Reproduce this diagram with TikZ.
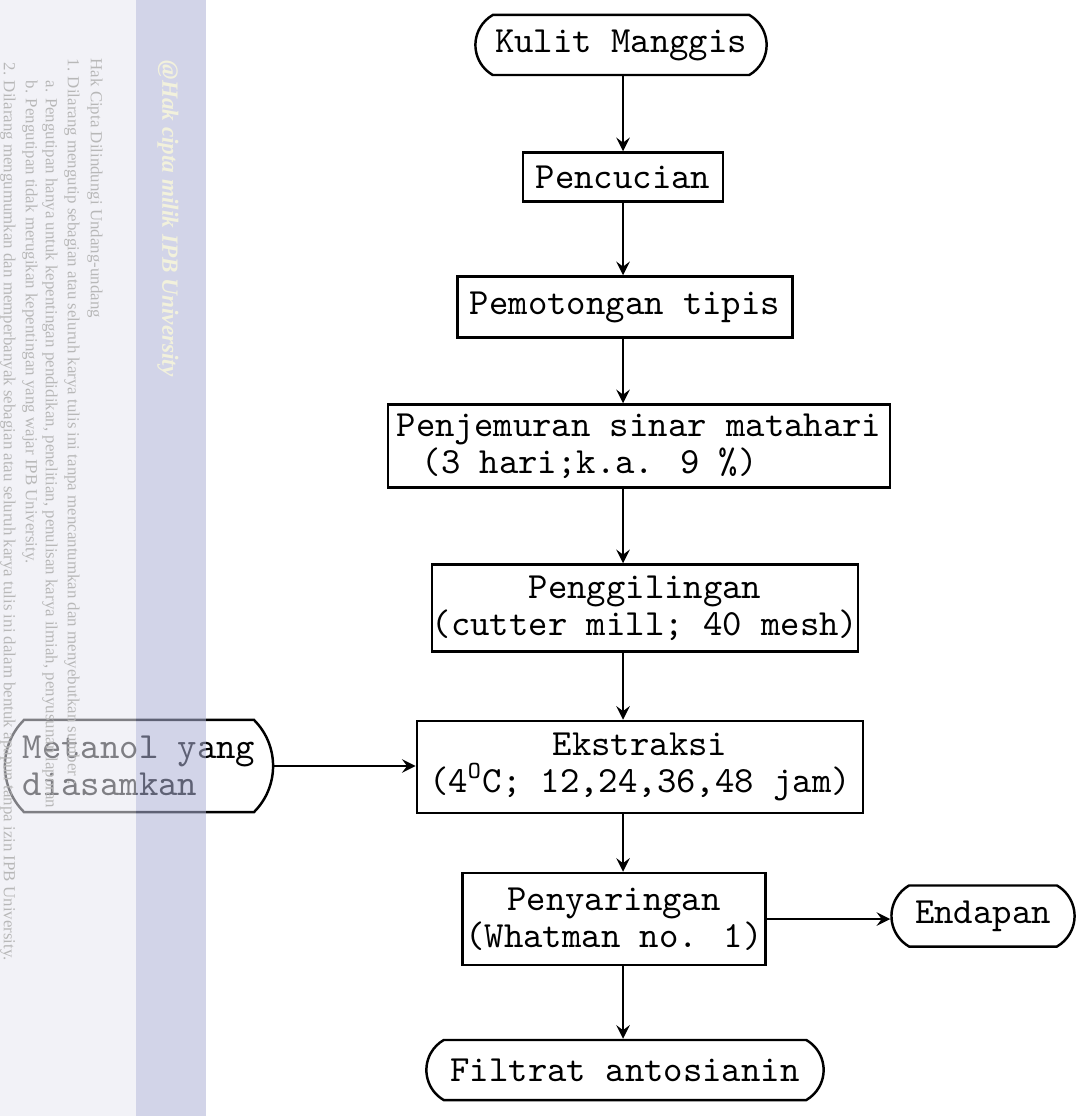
\documentclass[tikz,border=0pt]{standalone}
\usepackage{fontspec}
\newfontfamily\markfont{Liberation Serif}
\usetikzlibrary{shapes.misc}
\definecolor{bandgrey}{rgb}{0.909,0.909,0.945}
\definecolor{bandblue}{rgb}{0.68,0.693,0.836}
\definecolor{markyellow}{HTML}{F2F1DC}

\begin{document}
\begin{tikzpicture}[x=0.01cm, y=-0.01cm,
    box/.style={rectangle, draw=black, line width=0.7pt, align=center, inner sep=0pt, font=\ttfamily\fontsize{10.5}{10.4}\selectfont},
    term/.style={box, rounded rectangle, rounded rectangle arc length=120},
    arrow/.style={line width=0.7pt,->,>=stealth},
    fine/.style={anchor=west, rotate=-90, inner sep=0pt, text=black!28, font=\markfont\fontsize{4.8}{5}\selectfont}
]
    \useasboundingbox (0,0) rectangle (1080,1116);
    \coordinate (axis) at (623,0);

    % main chain
    \node[term, minimum width=2.91cm, minimum height=0.6cm] (kulit) at (621,45) {Kulit Manggis};
    \node[box, minimum width=2cm, minimum height=0.49cm] (cuci) at (623,177) {Pencucian};
    \node[box, minimum width=3.35cm, minimum height=0.61cm] (potong) at (625,307) {Pemotongan tipis};
    \node[box, align=left, minimum width=5.02cm, minimum height=0.83cm] (jemur) at (639,446) {Penjemuran sinar matahari\\\hspace{0.25cm}(3 hari;k.a. 9 \%)};
    \node[box, minimum width=4.25cm, minimum height=0.87cm] (giling) at (645,608) {Penggilingan\\(cutter mill; 40 mesh)};
    \node[box, minimum width=4.46cm, minimum height=0.92cm] (ekstrak) at (640,767) {Ekstraksi\\(4\textsuperscript{\scriptsize O}C; 12,24,36,48 jam)};
    \node[box, minimum width=3.03cm, minimum height=0.92cm] (saring) at (614,919) {Penyaringan\\(Whatman no. 1)};
    \node[term, minimum width=3.97cm, minimum height=0.6cm] (filtrat) at (625,1070) {Filtrat antosianin};

    % side nodes
    \node[term, align=left, rounded rectangle arc length=90, minimum width=2.68cm, minimum height=0.92cm] (metanol) at (139,766) {Metanol yang\\diasamkan};
    \node[term, minimum width=1.83cm, minimum height=0.61cm] (endapan) at (983,916) {Endapan};

    \draw[arrow] (axis |- kulit.south) -- (axis |- cuci.north);
    \draw[arrow] (axis |- cuci.south) -- (axis |- potong.north);
    \draw[arrow] (axis |- potong.south) -- (axis |- jemur.north);
    \draw[arrow] (axis |- jemur.south) -- (axis |- giling.north);
    \draw[arrow] (axis |- giling.south) -- (axis |- ekstrak.north);
    \draw[arrow] (axis |- ekstrak.south) -- (axis |- saring.north);
    \draw[arrow] (axis |- saring.south) -- (axis |- filtrat.north);
    \draw[arrow] (metanol.east) -- (metanol.east -| ekstrak.west);
    \draw[arrow] (saring.east) -- (saring.east -| endapan.west);

    % watermark margin
    \fill[bandgrey, fill opacity=0.55] (0,0) rectangle (136,1116);
    \fill[bandblue, fill opacity=0.55] (136,0) rectangle (206,1116);
    \begin{scope}
        \clip (0,0) rectangle (136,1116);
        \node[fine] (hak) at (95,58) {Hak Cipta Dilindungi Undang-undang};
        \node[fine] (larang) at (72,58) {1. Dilarang mengutip sebagian atau seluruh karya tulis ini tanpa mencantumkan dan menyebutkan sumber :};
        \node[fine] (kutipa) at (50,80) {a. Pengutipan hanya untuk kepentingan pendidikan, penelitian, penulisan karya ilmiah, penyusunan laporan};
        \node[fine] (kutipb) at (30,80) {b. Pengutipan tidak merugikan kepentingan yang wajar IPB University.};
        \node[fine] (umum) at (8,62) {2. Dilarang mengumumkan dan memperbanyak sebagian atau seluruh karya tulis ini dalam bentuk apapun tanpa izin IPB University.};
    \end{scope}
    \node[anchor=west, rotate=-90, inner sep=0pt, text=markyellow, font=\markfont\bfseries\itshape\fontsize{6.6}{7}\selectfont] (cipta) at (168,60) {@Hak cipta milik IPB University};
\end{tikzpicture}
\end{document}
